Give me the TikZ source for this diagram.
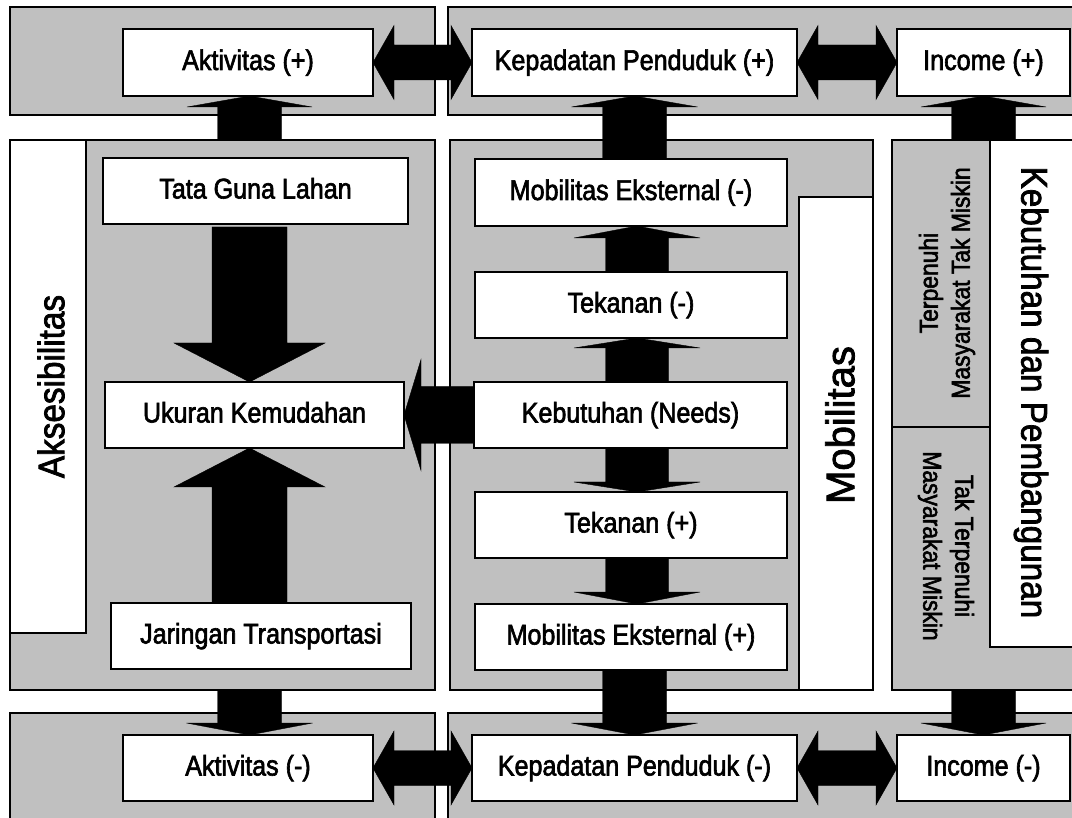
\documentclass[tikz,border=0pt]{standalone}
\usepackage{fontspec}
\setmainfont{Liberation Sans}
\newfontfamily\nar[FakeStretch=0.88,FakeBold=2.2]{Liberation Sans}
\newfontfamily\bignar[FakeStretch=0.9,FakeBold=2]{Liberation Sans}
\newfontfamily\mobf[FakeBold=2]{Liberation Sans}
\usetikzlibrary{calc}
\definecolor{panelgray}{RGB}{192,192,192}
\newcommand{\sarrow}[5]{%
  \coordinate (aS) at (#1);
  \coordinate (aT) at (#2);
  \coordinate (aB) at ($(aT)!#5!(aS)$);
  \fill[arr] ($(aS)!#3!90:(aT)$) -- ($(aB)!#3!90:(aT)$) -- ($(aB)!#4!90:(aT)$) -- (aT) -- ($(aB)!#4!-90:(aT)$) -- ($(aB)!#3!-90:(aT)$) -- ($(aS)!#3!-90:(aT)$) -- cycle;}
\newcommand{\darrow}[5]{%
  \coordinate (dA) at (#1);
  \coordinate (dB) at (#2);
  \coordinate (dA1) at ($(dA)!#5!(dB)$);
  \coordinate (dB1) at ($(dB)!#5!(dA)$);
  \fill[arr] (dA) -- ($(dA1)!#4!90:(dB)$) -- ($(dA1)!#3!90:(dB)$) -- ($(dB1)!#3!-90:(dA)$) -- ($(dB1)!#4!-90:(dA)$) -- (dB) -- ($(dB1)!#4!90:(dA)$) -- ($(dB1)!#3!90:(dA)$) -- ($(dA1)!#3!-90:(dB)$) -- ($(dA1)!#4!-90:(dB)$) -- cycle;}
\begin{document}
\begin{tikzpicture}[x=1pt,y=-1pt,
  panel/.style={draw=black, line width=1.3pt, fill=panelgray, inner sep=0pt, outer sep=0pt},
  wrect/.style={draw=black, line width=1.3pt, fill=white, inner sep=0pt, outer sep=0pt},
  wbox/.style={draw=black, line width=1.4pt, fill=white, inner sep=0pt, outer sep=0pt,
    text height=21pt, text depth=6pt, font=\nar\fontsize{28.5}{34}\selectfont},
  arr/.style={fill=black, draw=black, line width=0.4pt}]
\clip (0,0) rectangle (1072,818);
\fill[white] (0,0) rectangle (1072,818);
% panels
\node[panel, minimum width=425pt, minimum height=108pt] (pTL) at (222.5,61) {};
\node[panel, minimum width=637pt, minimum height=108pt] (pTR) at (766.5,61) {};
\node[panel, minimum width=425pt, minimum height=550pt] (pL) at (222.5,415) {};
\node[panel, minimum width=423pt, minimum height=550pt] (pM) at (661.5,415) {};
\node[panel, minimum width=193pt, minimum height=550pt] (pR) at (988.5,415) {};
\node[panel, minimum width=425pt, minimum height=117pt] (pBL) at (222.5,771.5) {};
\node[panel, minimum width=637pt, minimum height=117pt] (pBR) at (766.5,771.5) {};
% white side rectangles
\node[wrect, minimum width=76pt, minimum height=493pt] (wA) at (48,386.5) {};
\node[wrect, minimum width=74pt, minimum height=493pt] (wM) at (836,443.5) {};
\node[wrect, minimum width=95pt, minimum height=507pt] (wK) at (1037.5,393.5) {};
\coordinate (split) at (941,427);
\draw[line width=1.3pt] (split -| pR.west) -- (split -| wK.west);
% side labels
\node[rotate=90, font=\bignar\fontsize{37}{44}\selectfont] (taks) at (51,386.5) {Aksesibilitas};
\node[rotate=90, font=\mobf\fontsize{40}{48}\selectfont] (tmob) at (840,425) {Mobilitas};
\node[rotate=-90, font=\bignar\fontsize{37}{44}\selectfont] (tkeb) at (1031,392.5) {Kebutuhan dan Pembangunan};
\node[rotate=90, align=center, font=\nar\fontsize{26}{32}\selectfont] (tterp) at (947,283) {Terpenuhi\\Masyarakat Tak Miskin};
\node[rotate=-90, align=center, font=\nar\fontsize{26}{32}\selectfont] (ttak) at (946,546) {Tak Terpenuhi\\Masyarakat Miskin};
% boxes
\node[wbox, minimum width=250pt, minimum height=67pt] (aktp) at (248,62.5) {Aktivitas (+)};
\node[wbox, minimum width=325pt, minimum height=67pt] (kepp) at (634.5,62.5) {Kepadatan Penduduk (+)};
\node[wbox, minimum width=173pt, minimum height=67pt] (incp) at (983.5,62.5) {Income (+)};
\node[wbox, minimum width=305pt, minimum height=66pt] (tgl) at (255.5,191) {Tata Guna Lahan};
\node[wbox, minimum width=299pt, minimum height=66pt] (uk) at (254.5,415) {Ukuran Kemudahan};
\node[wbox, minimum width=300pt, minimum height=66pt] (jt) at (261,636) {Jaringan Transportasi};
\node[wbox, minimum width=312pt, minimum height=67pt] (mem) at (631,192.5) {Mobilitas Eksternal (-)};
\node[wbox, minimum width=312pt, minimum height=66pt] (tkm) at (631,305) {Tekanan (-)};
\node[wbox, minimum width=313pt, minimum height=66pt] (keb) at (630.5,415) {Kebutuhan (Needs)};
\node[wbox, minimum width=312pt, minimum height=66pt] (tkp) at (631,525) {Tekanan (+)};
\node[wbox, minimum width=312pt, minimum height=66pt] (mep) at (631,637) {Mobilitas Eksternal (+)};
\node[wbox, minimum width=250pt, minimum height=66pt] (aktm) at (248,768) {Aktivitas (-)};
\node[wbox, minimum width=325pt, minimum height=66pt] (kepm) at (634.5,768) {Kepadatan Penduduk (-)};
\node[wbox, minimum width=173pt, minimum height=66pt] (incm) at (983.5,768) {Income (-)};
% column coordinates
\coordinate (colL) at (249.5,0);
\coordinate (colM) at (637,0);
% arrows
\sarrow{colL |- pL.north}{colL |- aktp.south}{32pt}{62.5pt}{11pt}
\sarrow{$(colL |- tgl.south)+(0,3)$}{colL |- uk.north}{37.5pt}{75.5pt}{39pt}
\sarrow{colL |- jt.north}{colL |- uk.south}{37.5pt}{75.5pt}{39pt}
\sarrow{keb.west}{uk.east}{28.5pt}{55.5pt}{17pt}
\sarrow{colM |- tkm.north}{colM |- mem.south}{31.5pt}{63pt}{12pt}
\sarrow{colM |- keb.north}{colM |- tkm.south}{31.5pt}{63pt}{10pt}
\sarrow{colM |- keb.south}{colM |- tkp.north}{31.5pt}{63pt}{10pt}
\sarrow{colM |- tkp.south}{colM |- mep.north}{31.5pt}{63pt}{12pt}
\sarrow{kepp |- mem.north}{kepp.south}{32pt}{63pt}{11pt}
\sarrow{kepm |- mep.south}{kepm.north}{32pt}{63pt}{12pt}
\sarrow{colL |- pL.south}{colL |- aktm.north}{32pt}{63pt}{12pt}
\sarrow{incp |- pR.north}{incp.south}{32pt}{62.5pt}{11pt}
\sarrow{incm |- pR.south}{incm.north}{32pt}{62.5pt}{12pt}
\darrow{aktp.east}{kepp.west}{17.5pt}{37pt}{21pt}
\darrow{kepp.east}{incp.west}{17.5pt}{37pt}{21pt}
\darrow{aktm.east}{kepm.west}{17.5pt}{37pt}{21pt}
\darrow{kepm.east}{incm.west}{17.5pt}{37pt}{21pt}
\end{tikzpicture}
\end{document}
